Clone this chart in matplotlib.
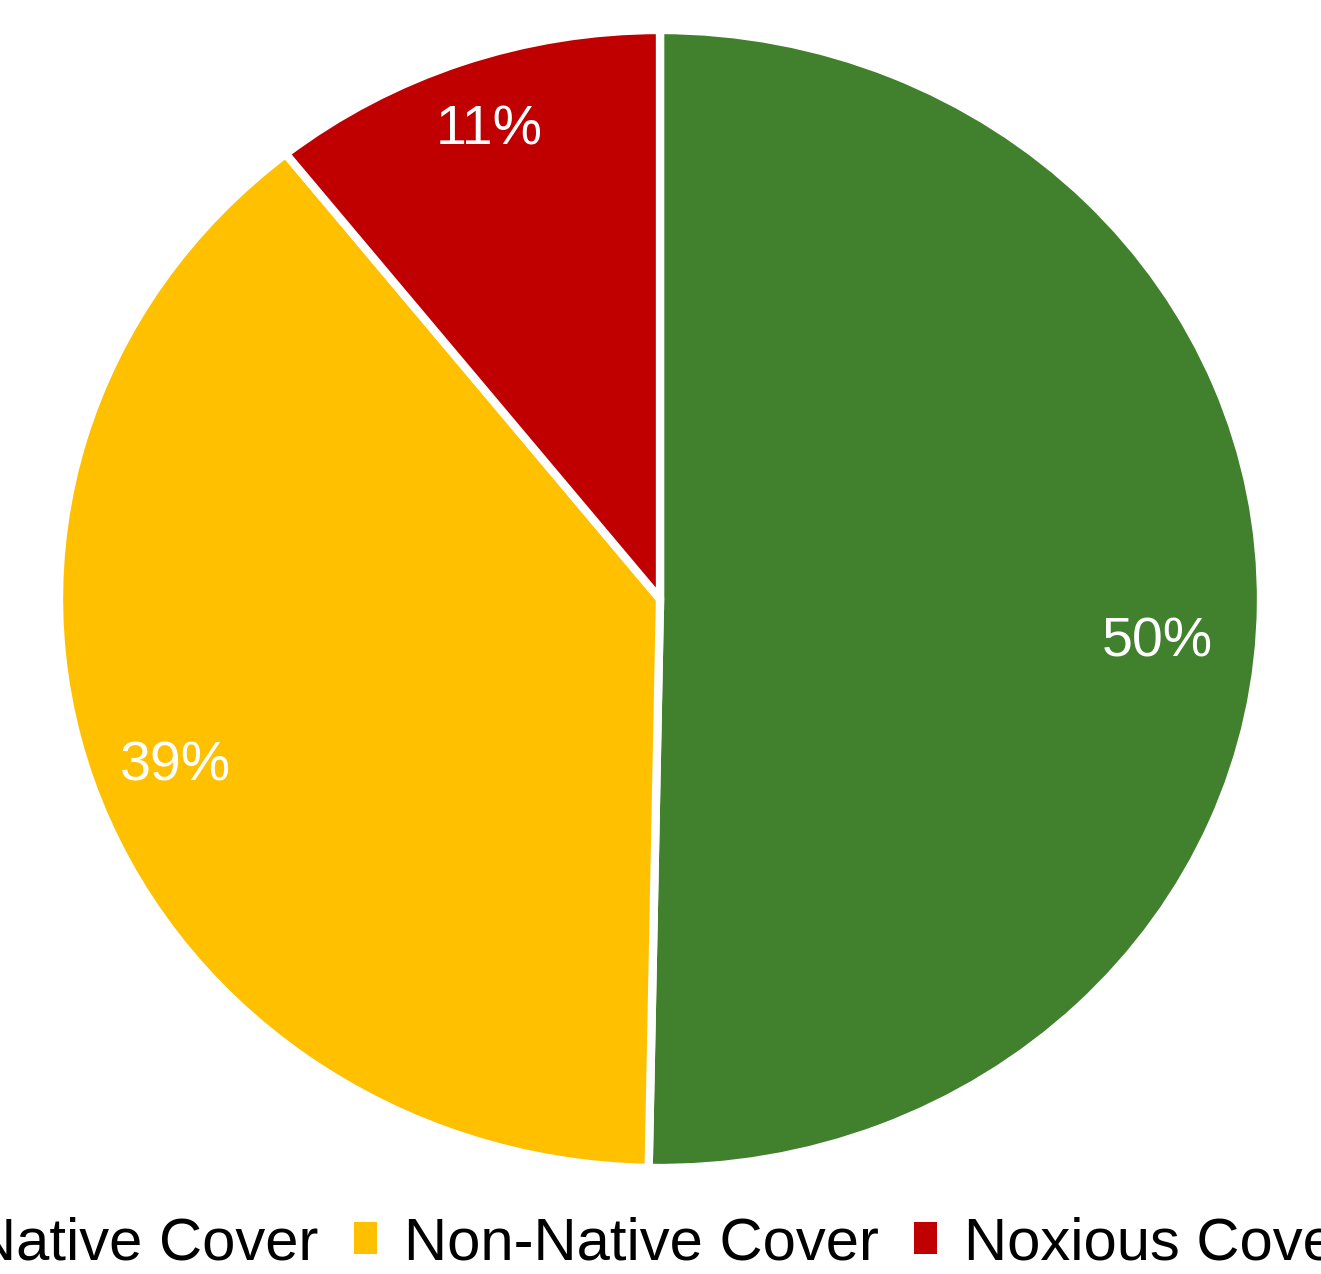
import matplotlib.pyplot as plt
from matplotlib.patches import Patch

# dados
categorias = ['Native Cover', 'Non-Native Cover', 'Noxious Cover']
valores = [50.3, 39.0, 10.7]
rotulos = ['50%', '39%', '11%']
cores = ['#41802C', '#FFC000', '#C00000']

plt.rcParams['font.family'] = ['Liberation Sans', 'DejaVu Sans']

fig = plt.figure(figsize=(13.21, 12.74), dpi=100)
ax = fig.add_axes([59/1321, 106/1274, 1202/1321, 1138/1274])

fatias, _ = ax.pie(valores, colors=cores, startangle=90, counterclock=False,
                   wedgeprops=dict(edgecolor='white', linewidth=6))
ax.set_aspect('auto')
ax.set_xlim(-1, 1)
ax.set_ylim(-1, 1)

# posicoes dos rotulos (como no Excel)
pos = [(0.828, -0.076), (-0.806, -0.295), (-0.284, 0.823)]
for (x, y), r in zip(pos, rotulos):
    ax.text(x, y, r, color='white', fontsize=40, ha='center', va='center')

# legenda com quadrados sem borda branca
handles = [Patch(facecolor=c) for c in cores]
fig.legend(handles, categorias, ncol=3, loc='center',
           bbox_to_anchor=(0.484, 1 - 1244/1274), frameon=False,
           fontsize=43, handlelength=0.38, handleheight=0.45,
           handletextpad=0.45, columnspacing=0.6)

fig.savefig('out.png', dpi=100)
